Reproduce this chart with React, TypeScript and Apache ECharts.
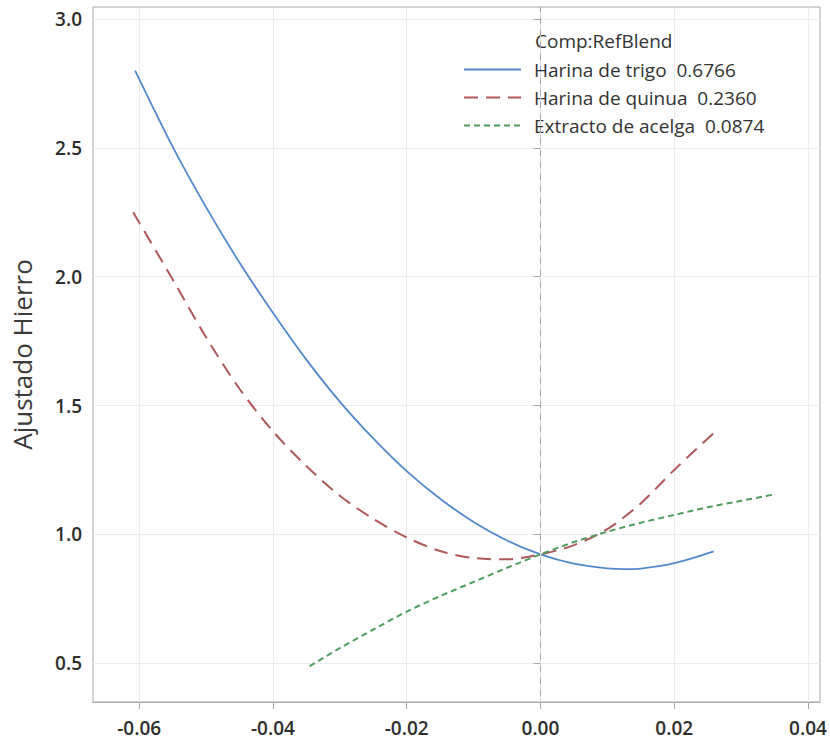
import React, { useEffect, useRef } from "react";
import * as echarts from "echarts";

const seriesNames = ["Harina de trigo  0.6766", "Harina de quinua  0.2360", "Extracto de acelga  0.0874"];
const legendTitle = "Comp:RefBlend";
const yAxisName = "Ajustado Hierro";

const xTicks = [-0.06, -0.04, -0.02, 0.0, 0.02, 0.04];
const yTicks = [0.5, 1.0, 1.5, 2.0, 2.5, 3.0];

const trigoX = [-0.0606, -0.055, -0.05, -0.045, -0.04, -0.035, -0.03, -0.025, -0.02, -0.015, -0.01, -0.005, 0, 0.005, 0.01, 0.0125, 0.015, 0.02, 0.0259];
const trigoY = [2.8, 2.505, 2.27, 2.055, 1.86, 1.678, 1.515, 1.372, 1.245, 1.138, 1.048, 0.976, 0.922, 0.886, 0.868, 0.865, 0.867, 0.888, 0.934];

const quinuaX = [-0.0609, -0.055, -0.05, -0.045, -0.04, -0.035, -0.03, -0.025, -0.02, -0.015, -0.01, -0.005, 0, 0.005, 0.01, 0.015, 0.02, 0.0262];
const quinuaY = [2.25, 1.99, 1.765, 1.565, 1.4, 1.265, 1.15, 1.06, 0.988, 0.935, 0.908, 0.903, 0.922, 0.958, 1.02, 1.12, 1.25, 1.4];

const acelgaX = [-0.0345, -0.03, -0.025, -0.02, -0.015, -0.01, -0.005, 0, 0.005, 0.01, 0.015, 0.02, 0.025, 0.03, 0.035];
const acelgaY = [0.488, 0.558, 0.63, 0.7, 0.76, 0.815, 0.87, 0.922, 0.97, 1.01, 1.045, 1.075, 1.105, 1.13, 1.155];

const referenceX = 0;

const xMin = -0.0669;
const xMax = 0.0418;
const yMin = 0.349;
const yMax = 3.047;

const zip = (xs: number[], ys: number[]) => xs.map((x, i) => [x, ys[i]]);

export default function App() {
  const ref = useRef<HTMLDivElement>(null);
  useEffect(() => {
    if (!ref.current) return;
    const chart = echarts.init(ref.current, null, { renderer: "svg" });
    const font = "'Open Sans', 'Noto Sans', sans-serif";
    chart.setOption({
      animation: false,
      backgroundColor: "#ffffff",
      grid: {
        left: 93,
        right: 10,
        top: 7,
        bottom: 40,
        show: true,
        borderColor: "#a8a8a8",
        borderWidth: 1,
        backgroundColor: "transparent",
      },
      xAxis: {
        type: "value",
        min: xMin,
        max: xMax,
        axisLine: { show: true, onZero: false, lineStyle: { color: "#a8a8a8", width: 1 } },
        axisTick: { show: true, length: 7, customValues: xTicks, lineStyle: { color: "#a8a8a8" } },
        axisLabel: {
          customValues: xTicks,
          formatter: (v: number) => v.toFixed(2),
          fontFamily: font,
          fontSize: 19,
          fontWeight: 600,
          color: "#2e2e2e",
          margin: 16,
        },
        splitLine: { show: true, lineStyle: { color: "#ececec", width: 1 } },
      },
      yAxis: {
        type: "value",
        min: yMin,
        max: yMax,
        name: yAxisName,
        nameLocation: "middle",
        nameGap: 58,
        nameTextStyle: { fontFamily: font, fontSize: 26, color: "#3a3a3a" },
        axisLine: { show: true, lineStyle: { color: "#a8a8a8", width: 1 } },
        axisTick: { show: true, length: 7, customValues: yTicks, lineStyle: { color: "#a8a8a8" } },
        axisLabel: {
          customValues: yTicks,
          formatter: (v: number) => v.toFixed(1),
          fontFamily: font,
          fontSize: 19,
          fontWeight: 600,
          color: "#2e2e2e",
          margin: 11,
        },
        splitLine: { show: true, lineStyle: { color: "#ececec", width: 1 } },
      },
      legend: {
        orient: "vertical",
        left: 463,
        top: 60,
        padding: 0,
        itemWidth: 57,
        itemHeight: 20,
        itemGap: 9,
        itemStyle: { opacity: 0 },
        textStyle: { fontFamily: font, fontSize: 19, color: "#333", padding: [0, 0, 0, 8] },
        data: seriesNames,
      },
      graphic: [
        {
          type: "text",
          x: 535,
          y: 41,
          style: { text: legendTitle, font: `19px ${font}`, fill: "#333", textVerticalAlign: "middle", verticalAlign: "middle" },
        },
      ],
      series: [
        {
          name: seriesNames[0],
          type: "line",
          data: zip(trigoX, trigoY),
          smooth: 0.3,
          symbol: "none",
          lineStyle: { color: "#5189cc", width: 1.8, type: "solid" },
          itemStyle: { color: "#5189cc" },
          z: 3,
          markLine: {
            silent: true,
            symbol: "none",
            label: { show: false },
            lineStyle: { color: "#dadada", width: 1, type: [6, 6], opacity: 1 },
            data: [{ xAxis: referenceX }],
          },
        },
        {
          name: seriesNames[1],
          type: "line",
          data: zip(quinuaX, quinuaY),
          smooth: 0.3,
          symbol: "none",
          lineStyle: { color: "#b0575a", width: 2, type: [14, 8] },
          itemStyle: { color: "#b0575a" },
          z: 3,
        },
        {
          name: seriesNames[2],
          type: "line",
          data: zip(acelgaX, acelgaY),
          smooth: 0.3,
          symbol: "none",
          lineStyle: { color: "#4d9e5e", width: 2, type: [6, 4] },
          itemStyle: { color: "#4d9e5e" },
          z: 3,
        },
      ],
    });
    return () => chart.dispose();
  }, []);
  return <div ref={ref} style={{ position: "fixed", left: 0, top: 0, width: 830, height: 742 }} />;
}
